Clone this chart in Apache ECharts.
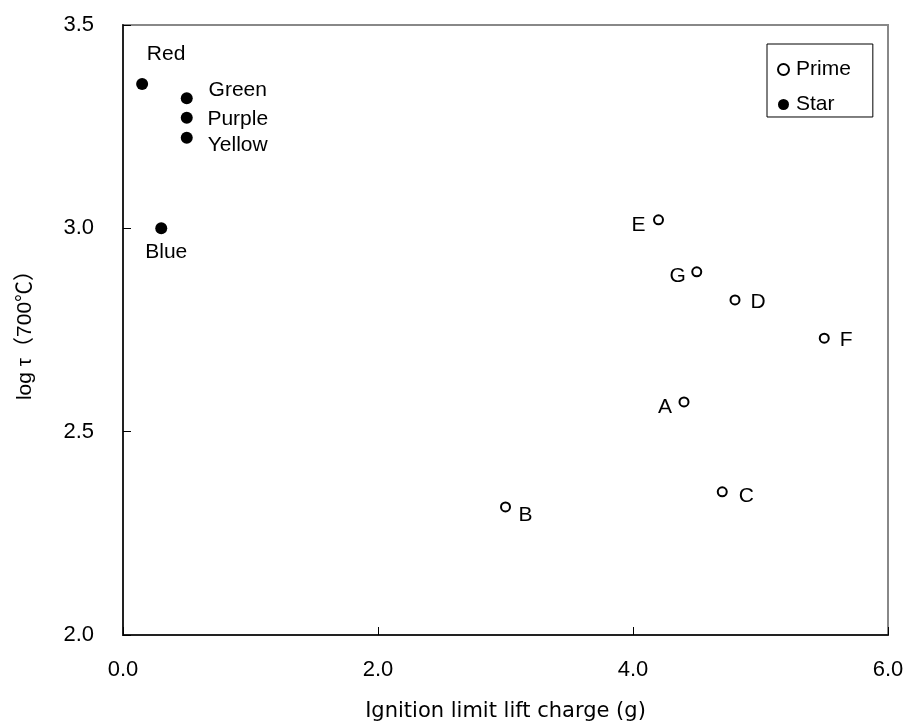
<!DOCTYPE html>
<html>
<head>
<meta charset="utf-8">
<script src="https://cdn.jsdelivr.net/npm/echarts@6/dist/echarts.min.js"></script>
<style>
  html, body { margin: 0; padding: 0; background: #fff; }
  #chart { width: 903px; height: 725px; }
</style>
</head>
<body>
<div id="chart"></div>
<script>
// Star compositions (filled markers)
let starNames = ['Red', 'Green', 'Purple', 'Yellow', 'Blue'];
let starX = [0.15, 0.5, 0.5, 0.5, 0.3];
let starY = [3.355, 3.32, 3.272, 3.223, 3.0];

// Prime compositions (hollow markers)
let primeNames = ['A', 'B', 'C', 'D', 'E', 'F', 'G'];
let primeX = [4.4, 3.0, 4.7, 4.8, 4.2, 5.5, 4.5];
let primeY = [2.573, 2.315, 2.352, 2.824, 3.021, 2.73, 2.893];

let xTicks = [0, 2, 4, 6];
let yTicks = [2.0, 2.5, 3.0, 3.5];

const FONT = '"Liberation Sans", Arial, "Noto Sans CJK JP", sans-serif';

// label centre offset from the marker, px
let labelOffset = {
    Red: [24, -30],
    Green: [51, -8],
    Purple: [51, 1],
    Yellow: [51, 8],
    Blue: [5, 24],
    A: [-19, 5],
    B: [20, 8],
    C: [24, 4],
    D: [23, 2],
    E: [-20, 5],
    F: [22, 2],
    G: [-19, 4]
};

function buildData(names, xs, ys) {
    return names.map(function (n, i) {
        return {
            name: n,
            value: [xs[i], ys[i]],
            label: {
                show: true,
                formatter: '{b}',
                position: 'inside',
                offset: labelOffset[n] || [15, 0]
            }
        };
    });
}

let chart = echarts.init(document.getElementById('chart'), null, { renderer: 'canvas' });

let option = {
    backgroundColor: '#fff',
    animation: false,
    textStyle: { fontFamily: FONT },
    grid: {
        left: 123, right: 15, top: 25, bottom: 90,
        outerBoundsMode: 'none',
        containLabel: false,
        show: true, borderColor: '#888', borderWidth: 2, backgroundColor: 'transparent'
    },
    legend: {
        orient: 'vertical',
        left: 767, top: 44,
        padding: [15, 22, 2, 10],
        itemGap: 14,
        itemWidth: 11, itemHeight: 11,
        borderColor: '#000', borderWidth: 1,
        textStyle: { fontSize: 21, color: '#000', fontFamily: FONT, padding: [0, 0, 0, 2] },
        data: [
            { name: 'Prime', icon: 'circle', itemStyle: { color: '#fff', borderColor: '#000', borderWidth: 2 } },
            { name: 'Star', icon: 'circle', itemStyle: { color: '#000' } }
        ]
    },
    xAxis: {
        type: 'value',
        min: 0, max: 6, interval: 2,
        name: 'Ignition limit lift charge (g)',
        nameLocation: 'middle',
        nameGap: 66,
        nameTextStyle: { fontSize: 21, color: '#000', fontFamily: '"DejaVu Sans", sans-serif' },
        axisLine: { show: true, lineStyle: { color: '#222', width: 2 } },
        axisTick: { show: true, inside: true, length: 8, lineStyle: { color: '#000', width: 1 } },
        axisLabel: {
            fontSize: 22, color: '#000', margin: 24,
            formatter: function (v) { return xTicks.indexOf(v) >= 0 ? v.toFixed(1) : ''; }
        },
        splitLine: { show: false }
    },
    yAxis: {
        type: 'value',
        min: 2.0, max: 3.5, interval: 0.5,
        name: 'log τ（700℃）',
        nameLocation: 'middle',
        nameGap: 87,
        nameRotate: 90,
        nameTextStyle: { fontSize: 21, color: '#000', fontFamily: FONT },
        axisLine: { show: true, lineStyle: { color: '#222', width: 2 } },
        axisTick: { show: true, inside: true, length: 8, lineStyle: { color: '#000', width: 1 } },
        axisLabel: {
            fontSize: 22, color: '#000', margin: 29,
            formatter: function (v) { return yTicks.indexOf(v) >= 0 ? v.toFixed(1) : ''; }
        },
        splitLine: { show: false }
    },
    series: [
        {
            name: 'Prime',
            type: 'scatter',
            symbol: 'circle',
            symbolSize: 9,
            itemStyle: { color: '#fff', borderColor: '#000', borderWidth: 2, opacity: 1 },
            label: { fontSize: 21, color: '#000', fontFamily: FONT },
            data: buildData(primeNames, primeX, primeY),
            z: 3
        },
        {
            name: 'Star',
            type: 'scatter',
            symbol: 'circle',
            symbolSize: 12,
            itemStyle: { color: '#000', opacity: 1 },
            label: { fontSize: 21, color: '#000', fontFamily: FONT },
            data: buildData(starNames, starX, starY),
            z: 3
        }
    ]
};

chart.setOption(option);
</script>
</body>
</html>
